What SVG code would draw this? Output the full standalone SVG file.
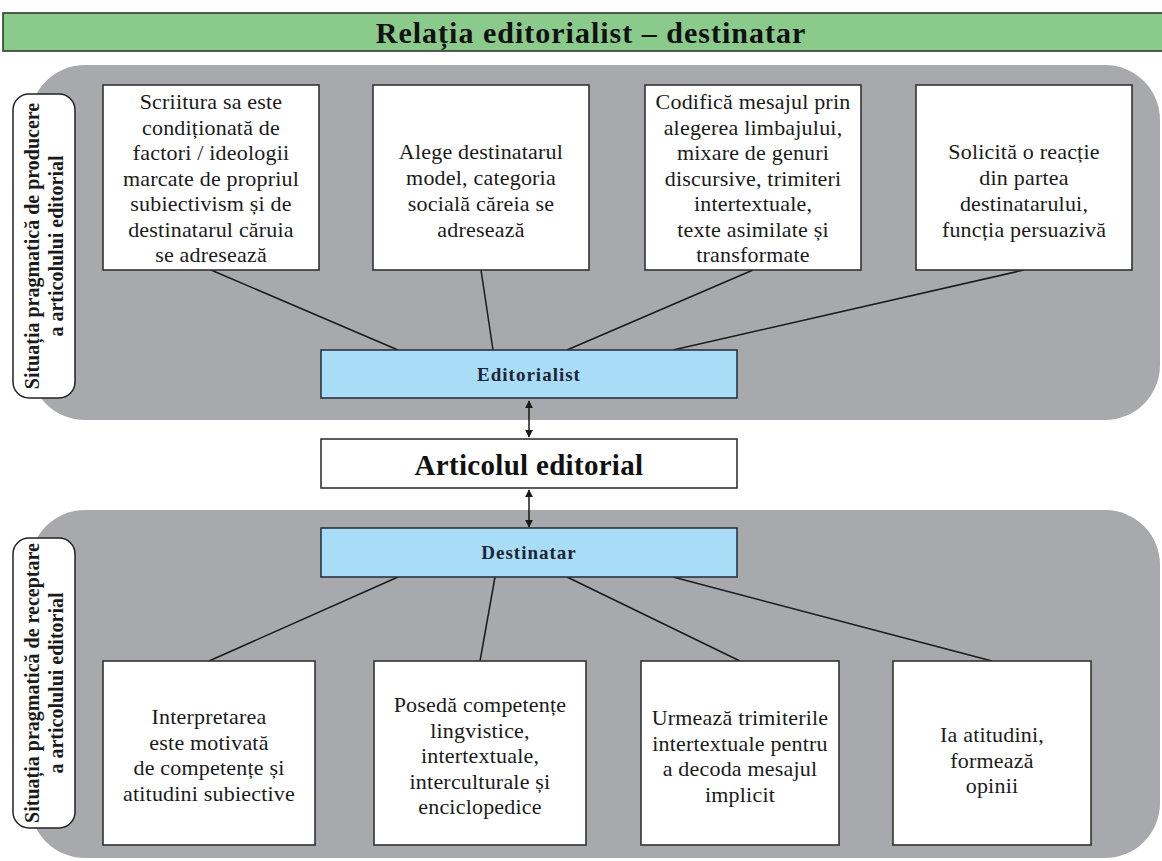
<svg xmlns="http://www.w3.org/2000/svg" width="1162" height="861" viewBox="0 0 1162 861">
  <defs>
    <style>
      .panel { fill: #a8a9ad; }
      .side { fill: #ffffff; stroke: #222; stroke-width: 1.5; }
      .side-t { font-family: "Liberation Serif", serif; font-weight: bold; font-size: 20px; fill: #1a1a1a; text-anchor: middle; }
      .node { fill: #ffffff; stroke: #333; stroke-width: 1.6; }
      .nt { font-family: "Liberation Serif", serif; font-size: 22px; letter-spacing: 0.2px; fill: #1a1a1a; text-anchor: middle; }
      .blue { fill: #a9dcf6; stroke: #2a3340; stroke-width: 1.6; }
      .bt { font-family: "Liberation Serif", serif; font-weight: bold; font-size: 19px; letter-spacing: 1px; fill: #1b2635; text-anchor: middle; }
      .conn { stroke: #1a1a1a; stroke-width: 1.5; fill: none; }
    </style>
    <marker id="ah" viewBox="0 0 10 10" refX="9" refY="5" markerWidth="8" markerHeight="8" orient="auto-start-reverse" markerUnits="userSpaceOnUse">
      <path d="M0,0 L10,5 L0,10 z" fill="#1a1a1a"/>
    </marker>
  </defs>

  <rect x="0" y="0" width="1162" height="861" fill="#ffffff"/>

  <g id="header">
    <rect x="3" y="13" width="1162" height="38" fill="#8acb8c" stroke="#2d3a2e" stroke-width="1.6"/>
    <text x="591" y="43" font-family="Liberation Serif, serif" font-weight="bold" font-size="30" letter-spacing="1" fill="#111" text-anchor="middle">Relația editorialist – destinatar</text>
  </g>

  <g id="panel-producere">
    <rect class="panel" x="30" y="65" width="1130" height="355" rx="55" ry="55"/>
  </g>
  <g id="panel-receptare">
    <rect class="panel" x="30" y="510" width="1130" height="348" rx="55" ry="55"/>
  </g>

  <g id="label-producere">
    <rect class="side" x="13" y="94" width="62" height="304" rx="16" ry="16"/>
    <g transform="translate(44,246) rotate(-90)">
      <text class="side-t" x="0" y="-5">Situația pragmatică de producere</text>
      <text class="side-t" x="0" y="19">a articolului editorial</text>
    </g>
  </g>
  <g id="label-receptare">
    <rect class="side" x="13" y="538" width="62" height="290" rx="16" ry="16"/>
    <g transform="translate(44,683) rotate(-90)">
      <text class="side-t" x="0" y="-5">Situația pragmatică de receptare</text>
      <text class="side-t" x="0" y="19">a articolului editorial</text>
    </g>
  </g>

  <g id="connectors">
    <line class="conn" x1="211" y1="270" x2="398" y2="350"/>
    <line class="conn" x1="481" y1="270" x2="493" y2="350"/>
    <line class="conn" x1="753" y1="270" x2="567" y2="350"/>
    <line class="conn" x1="1024" y1="270" x2="673" y2="350"/>
    <line class="conn" x1="398" y1="577" x2="209" y2="661"/>
    <line class="conn" x1="495" y1="577" x2="480" y2="661"/>
    <line class="conn" x1="567" y1="577" x2="740" y2="661"/>
    <line class="conn" x1="673" y1="577" x2="992" y2="661"/>
    <line class="conn" x1="529" y1="401" x2="529" y2="437" marker-start="url(#ah)" marker-end="url(#ah)"/>
    <line class="conn" x1="529" y1="490" x2="529" y2="527" marker-start="url(#ah)" marker-end="url(#ah)"/>
  </g>

  <g id="node-p1">
    <rect class="node" x="103" y="85" width="216" height="185"/>
    <text class="nt" x="211" y="109">Scriitura sa este</text>
    <text class="nt" x="211" y="134.5">condiționată de</text>
    <text class="nt" x="211" y="160">factori / ideologii</text>
    <text class="nt" x="211" y="185.5">marcate de propriul</text>
    <text class="nt" x="211" y="211">subiectivism și de</text>
    <text class="nt" x="211" y="236.5">destinatarul căruia</text>
    <text class="nt" x="211" y="262">se adresează</text>
  </g>
  <g id="node-p2">
    <rect class="node" x="373" y="85" width="216" height="185"/>
    <text class="nt" x="481" y="159">Alege destinatarul</text>
    <text class="nt" x="481" y="185">model, categoria</text>
    <text class="nt" x="481" y="211">socială căreia se</text>
    <text class="nt" x="481" y="237">adresează</text>
  </g>
  <g id="node-p3">
    <rect class="node" x="645" y="85" width="216" height="185"/>
    <text class="nt" x="753" y="109">Codifică mesajul prin</text>
    <text class="nt" x="753" y="134.5">alegerea limbajului,</text>
    <text class="nt" x="753" y="160">mixare de genuri</text>
    <text class="nt" x="753" y="185.5">discursive, trimiteri</text>
    <text class="nt" x="753" y="211">intertextuale,</text>
    <text class="nt" x="753" y="236.5">texte asimilate și</text>
    <text class="nt" x="753" y="262">transformate</text>
  </g>
  <g id="node-p4">
    <rect class="node" x="916" y="85" width="216" height="185"/>
    <text class="nt" x="1024" y="159">Solicită o reacție</text>
    <text class="nt" x="1024" y="185">din partea</text>
    <text class="nt" x="1024" y="211">destinatarului,</text>
    <text class="nt" x="1024" y="237">funcția persuazivă</text>
  </g>

  <g id="node-editorialist">
    <rect class="blue" x="321" y="350" width="416" height="48"/>
    <text class="bt" x="529" y="381">Editorialist</text>
  </g>
  <g id="node-articol">
    <rect class="node" x="321" y="439" width="416" height="49"/>
    <text x="529" y="475" font-family="Liberation Serif, serif" font-weight="bold" font-size="29" letter-spacing="0.3" fill="#111" text-anchor="middle">Articolul editorial</text>
  </g>
  <g id="node-destinatar">
    <rect class="blue" x="321" y="528" width="416" height="49"/>
    <text class="bt" x="529" y="559">Destinatar</text>
  </g>

  <g id="node-r1">
    <rect class="node" x="103" y="661" width="212" height="184"/>
    <text class="nt" x="209" y="724">Interpretarea</text>
    <text class="nt" x="209" y="749.5">este motivată</text>
    <text class="nt" x="209" y="775">de competențe și</text>
    <text class="nt" x="209" y="800.5">atitudini subiective</text>
  </g>
  <g id="node-r2">
    <rect class="node" x="374" y="661" width="212" height="184"/>
    <text class="nt" x="480" y="712">Posedă competențe</text>
    <text class="nt" x="480" y="737.5">lingvistice,</text>
    <text class="nt" x="480" y="763">intertextuale,</text>
    <text class="nt" x="480" y="788.5">interculturale și</text>
    <text class="nt" x="480" y="814">enciclopedice</text>
  </g>
  <g id="node-r3">
    <rect class="node" x="641" y="661" width="198" height="184"/>
    <text class="nt" x="740" y="725">Urmează trimiterile</text>
    <text class="nt" x="740" y="750.5">intertextuale pentru</text>
    <text class="nt" x="740" y="776">a decoda mesajul</text>
    <text class="nt" x="740" y="801.5">implicit</text>
  </g>
  <g id="node-r4">
    <rect class="node" x="893" y="661" width="198" height="184"/>
    <text class="nt" x="992" y="742">Ia atitudini,</text>
    <text class="nt" x="992" y="767.5">formează</text>
    <text class="nt" x="992" y="793">opinii</text>
  </g>
</svg>
